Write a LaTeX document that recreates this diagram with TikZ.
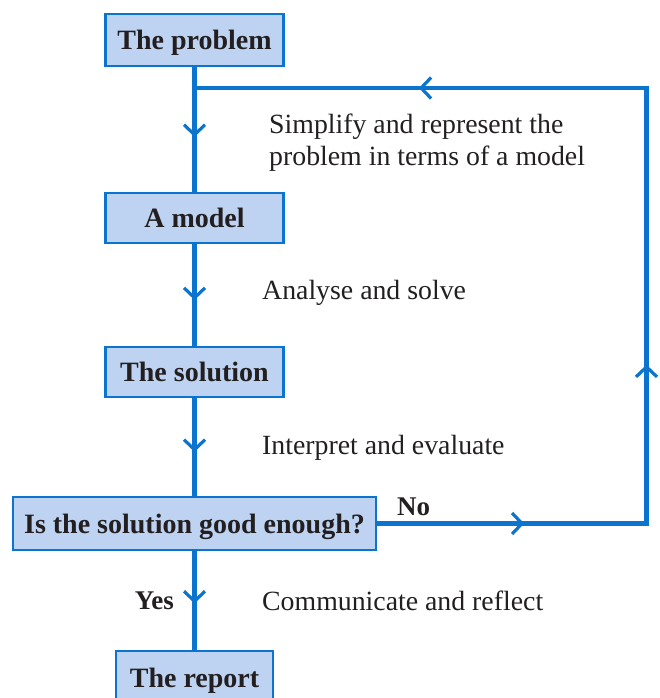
\documentclass[tikz,border=0pt]{standalone}
\usepackage{fontspec}
\setmainfont{Liberation Serif}
\usetikzlibrary{arrows.meta,decorations.markings}
\definecolor{flowblue}{HTML}{0A74CF}
\definecolor{boxfill}{HTML}{BED3F1}
\definecolor{ink}{HTML}{231F20}
\tikzset{
  box/.style={draw=flowblue, line width=2.7pt, fill=boxfill, text=ink,
    font=\fontsize{28}{32}\selectfont\bfseries, inner sep=0pt, minimum height=52pt,
    text height=25pt, text depth=6pt},
  flow/.style={draw=flowblue, line width=4.8pt, line join=miter},
  chev/.style={flowblue},
  chevtip/.tip={Straight Barb[length=10pt,width=21pt,line width=3.2pt]},
  midarrow/.style={postaction={decorate}, decoration={markings,
    mark=at position #1 with {\arrow[chev]{chevtip}}}},
  midarrow/.default=0.5,
  lbl/.style={text=ink, font=\fontsize{27.8}{32}\selectfont, align=left, inner sep=0pt},
  blbl/.style={text=ink, font=\fontsize{27}{32}\selectfont\bfseries, inner sep=0pt},
}
\begin{document}
\begin{tikzpicture}[x=1pt,y=-1pt]
\useasboundingbox (0,0) rectangle (659,698);
\coordinate (rc) at (646.5,88);
\path (194.5,40) coordinate (pc) (194.5,218) coordinate (mc) (194.5,372) coordinate (sc)
      (194.5,523.5) coordinate (dc) (194.5,678) coordinate (rpc);
\node[box, minimum width=178pt] (p) at (pc) {The problem};
\node[box, minimum width=178pt, minimum height=50pt] (m) at (mc) {A model};
\node[box, minimum width=178pt, minimum height=50pt] (s) at (sc) {The solution};
\node[box, minimum width=363pt, minimum height=53pt] (d) at (dc) {Is the solution good enough?};
\node[box, minimum width=157pt, minimum height=54pt] (r) at (rpc) {The report};
\draw[flow, midarrow=0.56] (p.south) -- (m.north);
\draw[flow, midarrow=0.55] (m.south) -- (s.north);
\draw[flow, midarrow=0.55] (s.south) -- (d.north);
\draw[flow, midarrow=0.53] (d.south) -- (r.north);
\draw[flow, postaction={decorate}, decoration={markings,
    mark=at position 0.127 with {\arrow[chev]{chevtip}},
    mark=at position 0.370 with {\arrow[chev]{chevtip}},
    mark=at position 0.806 with {\arrow[chev]{chevtip}}}]
  (d.east) -- (d.east -| rc) -- (rc) -- (rc -| p.south);
% labels
\node[lbl, anchor=west] (l1) at (269,143) {Simplify and represent the\\problem in terms of a model};
\node[lbl, anchor=west] (l2) at (262,293) {Analyse and solve};
\node[lbl, anchor=west] (l3) at (262,448) {Interpret and evaluate};
\node[lbl, anchor=west] (l4) at (262,601) {Communicate and reflect};
\node[blbl, anchor=west] (no) at (397,507) {No};
\node[blbl, anchor=east] (yes) at (174,601) {Yes};
\end{tikzpicture}
\end{document}
